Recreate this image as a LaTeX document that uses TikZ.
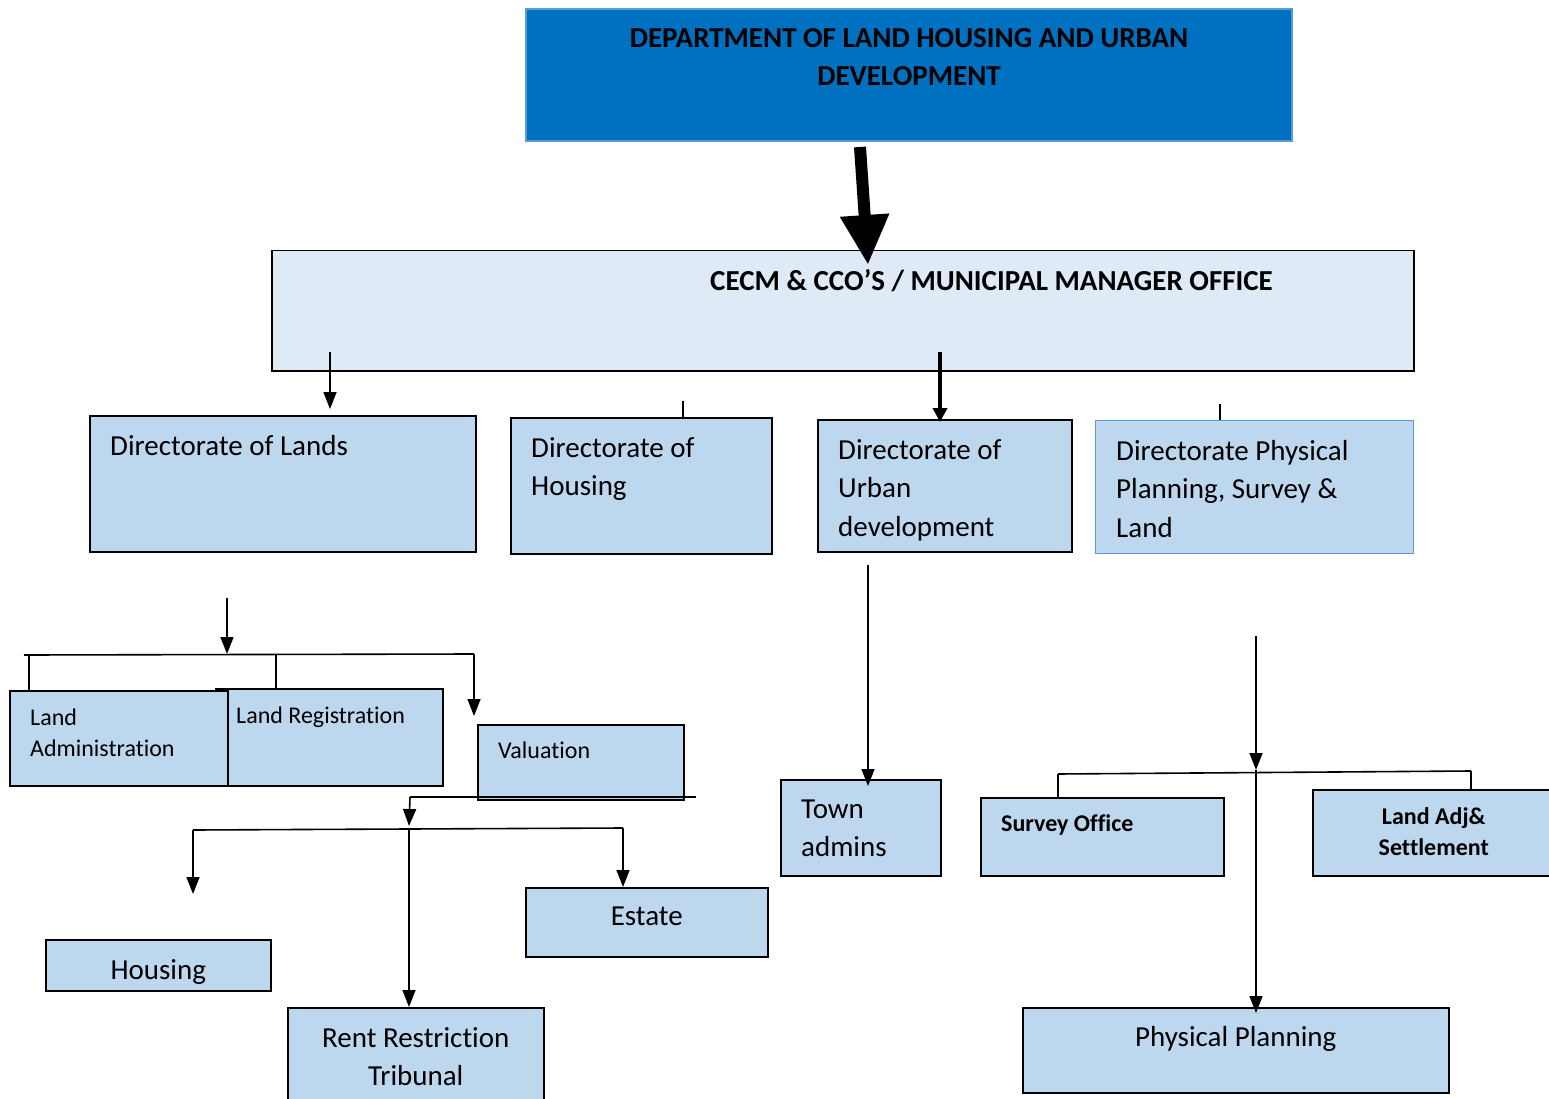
\documentclass[tikz,border=0pt]{standalone}
\usepackage{fontspec}
\setmainfont{Carlito}[Ligatures=NoCommon]
\usetikzlibrary{arrows.meta}
\definecolor{deptblue}{HTML}{0070C0}
\definecolor{deptline}{HTML}{5B9BD5}
\definecolor{cecmblue}{HTML}{DEEBF7}
\definecolor{boxblue}{HTML}{BDD7EE}
\newcommand{\bigtxt}{\fontsize{29}{38.5}\selectfont}
\newcommand{\smalltxt}{\fontsize{24}{31}\selectfont}

\begin{document}
\begin{tikzpicture}[x=1pt, y=-1pt,
    box/.style={draw, line width=1.5pt, fill=boxblue, anchor=north west, inner sep=0pt},
    lbl/.style={inner sep=0pt, align=left, font=\bigtxt},
    sml/.style={inner sep=0pt, align=left, font=\smalltxt},
    ln/.style={line width=1.6pt},
    arr/.style={line width=1.6pt, -{Triangle[width=13pt,length=17pt]}}]
    \useasboundingbox (0,0) rectangle (1549,1099);

    % top level
    \node[box, draw=deptline, fill=deptblue, line width=2pt, minimum width=766, minimum height=132,
      label={[lbl, font=\bigtxt\bfseries, align=center, anchor=north, yshift=-20]north:{DEPARTMENT OF LAND HOUSING AND URBAN\\DEVELOPMENT}}]
      (dept) at (525,8) {};
    \node[box, fill=cecmblue, minimum width=1142, minimum height=120,
      label={[lbl, font=\bigtxt\bfseries, anchor=north west, xshift=439, yshift=-19.5]north west:{CECM \& CCO’S / MUNICIPAL MANAGER OFFICE}}]
      (cecm) at (271,250) {};

    % directorates
    \node[box, minimum width=386, minimum height=136,
      label={[lbl, anchor=north west, xshift=21, yshift=-20]north west:{Directorate of Lands}}]
      (lands) at (89,415) {};
    \node[box, minimum width=261, minimum height=136,
      label={[lbl, anchor=north west, xshift=21, yshift=-20]north west:{Directorate of\\Housing}}]
      (housdir) at (510,417) {};
    \node[box, minimum width=254, minimum height=132,
      label={[lbl, anchor=north west, xshift=21, yshift=-20]north west:{Directorate of\\Urban\\development}}]
      (urban) at (817,419) {};
    \node[box, draw=deptline, line width=1pt, minimum width=318, minimum height=133,
      label={[lbl, anchor=north west, xshift=21, yshift=-20]north west:{Directorate Physical\\Planning, Survey \&\\Land}}]
      (physdir) at (1095,420) {};

    % lands sections
    \node[box, minimum width=227, minimum height=97,
      label={[sml, anchor=north west, xshift=21, yshift=-18.5]north west:{Land Registration}}]
      (landreg) at (215,688) {};
    \node[box, minimum width=218, minimum height=95,
      label={[sml, anchor=north west, xshift=21, yshift=-18.5]north west:{Land\\Administration}}]
      (landadm) at (9,690) {};
    \node[box, minimum width=206, minimum height=75,
      label={[sml, anchor=north west, xshift=21, yshift=-17.5]north west:{Valuation}}]
      (valuation) at (477,724) {};

    % housing sections
    \node[box, minimum width=225, minimum height=51,
      label={[lbl, anchor=north, yshift=-20]north:{Housing}}]
      (housing) at (45,939) {};
    \node[box, minimum width=242, minimum height=69,
      label={[lbl, anchor=north, yshift=-20]north:{Estate}}]
      (estate) at (525,887) {};
    \node[box, minimum width=256, minimum height=110,
      label={[lbl, align=center, anchor=north, yshift=-20]north:{Rent Restriction\\Tribunal}}]
      (rent) at (287,1007) {};

    % urban and planning sections
    \node[box, minimum width=160, minimum height=96,
      label={[lbl, anchor=north west, xshift=21, yshift=-20.5]north west:{Town\\admins}}]
      (town) at (780,779) {};
    \node[box, minimum width=243, minimum height=78,
      label={[sml, font=\smalltxt\bfseries, anchor=north west, xshift=21, yshift=-17]north west:{Survey Office}}]
      (survey) at (980,797) {};
    \node[box, minimum width=242, minimum height=86,
      label={[sml, font=\smalltxt\bfseries, align=center, anchor=north, yshift=-18]north:{Land Adj\&\\Settlement}}]
      (landadj) at (1312,789) {};
    \node[box, minimum width=426, minimum height=85,
      label={[lbl, anchor=north, yshift=-19.5]north:{Physical Planning}}]
      (physplan) at (1022,1007) {};

    % connectors
    \coordinate (d0) at (860,147);
    \coordinate (d1) at (868,265);
    \draw[line width=12pt, -{Triangle[width=46pt,length=50pt]}] (d0) -- (d1);

    \coordinate (c1) at (330,352);
    \coordinate (c2) at (330,409);
    \draw[arr] (c1) -- (c2);
    \coordinate (c3) at (940,352);
    \coordinate (c4) at (940,422);
    \draw[line width=4pt, -{Triangle[width=14pt,length=14pt]}] (c3) -- (c4);
    \coordinate (c5) at (683,401);
    \coordinate (c6) at (1220,404);
    \draw[ln] (c5) -- (c5 |- housdir.north);
    \draw[ln] (c6) -- (c6 |- physdir.north);

    % lands branch
    \coordinate (l0) at (227,598);
    \coordinate (l1) at (227,654);
    \coordinate (la) at (24,655);
    \coordinate (lb) at (474,654);
    \coordinate (lc) at (29,655);
    \coordinate (ld) at (276,655);
    \coordinate (le) at (474,716);
    \draw[arr] (l0) -- (l1);
    \draw[ln] (la) -- (lb);
    \draw[ln] (lc) -- (lc |- landadm.north);
    \draw[ln] (ld) -- (ld |- landreg.north);
    \draw[arr] (lb) -- (le);

    \coordinate (v0) at (410,797);
    \coordinate (v1) at (696,797);
    \coordinate (v2) at (409,826);
    \draw[ln] (v0) -- (v1);
    \draw[arr] (v0) -- (v2);

    \coordinate (h0) at (193,830);
    \coordinate (h1) at (623,828);
    \coordinate (h2) at (409,829);
    \coordinate (h3) at (193,894);
    \coordinate (h4) at (623,887);
    \coordinate (h5) at (409,1007);
    \draw[ln] (h0) -- (h1);
    \draw[arr] (h0) -- (h3);
    \draw[arr] (h1) -- (h4);
    \draw[arr] (h2) -- (h5);

    % urban branch
    \coordinate (u0) at (868,565);
    \coordinate (u1) at (868,786);
    \draw[arr] (u0) -- (u1);

    % planning branch
    \coordinate (p0) at (1256,636);
    \coordinate (p1) at (1256,770);
    \coordinate (p2) at (1256,1013);
    \coordinate (pa) at (1058,774);
    \coordinate (pb) at (1471,771);
    \draw[arr] (p0) -- (p1);
    \draw[arr] (p1) -- (p2);
    \draw[ln] (pa) -- (pb);
    \draw[ln] (pa) -- (pa |- survey.north);
    \draw[ln] (pb) -- (pb |- landadj.north);
\end{tikzpicture}
\end{document}
